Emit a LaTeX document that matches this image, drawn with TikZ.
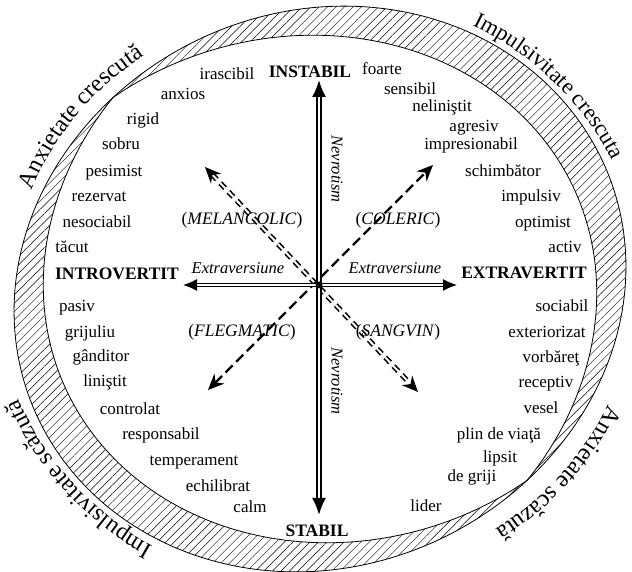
\documentclass[tikz,border=0pt]{standalone}
\usepackage{fontspec}
\setmainfont{Liberation Serif}
\usetikzlibrary{arrows.meta,decorations.text,patterns.meta,calc}
\begin{document}
\begin{tikzpicture}[x=1pt,y=1pt,
  word/.style={font=\fontsize{17}{20}\selectfont, anchor=base, inner sep=0pt},
  axislbl/.style={font=\fontsize{17.5}{20}\selectfont\bfseries, anchor=base, inner sep=0pt},
  typelbl/.style={font=\fontsize{17.5}{20}\selectfont, anchor=center, inner sep=0pt},
  dimlbl/.style={font=\fontsize{16.5}{20}\selectfont\itshape, inner sep=0pt},
  vaxis/.style={double=white, line width=2pt, double distance=1.4pt,
    {Latex[length=17pt,width=14pt]}-{Latex[length=17pt,width=14pt]}},
  haxis/.style={double=white, line width=1.2pt, double distance=1.4pt,
    {Latex[length=14pt,width=12pt]}-{Latex[length=14pt,width=12pt]}},
  ddash/.style={double=white, line width=1.6pt, double distance=2pt, dash pattern=on 7pt off 5pt,
    {Stealth[length=16pt,width=14pt]}-{Stealth[length=16pt,width=14pt]}},
  sdash/.style={line width=2.4pt, dash pattern=on 10pt off 5pt,
    {Stealth[length=16pt,width=14pt]}-{Stealth[length=16pt,width=14pt]}},
  band/.style={line width=0.8pt},
  arclbl/.style={decorate, decoration={text along path, text align=center}}
]
\path[fill=white,use as bounding box] (0,0) rectangle (632,572);

% hatched band
\fill[pattern={Lines[angle=45,distance=6pt,line width=0.45pt]}, even odd rule]
  plot[domain=0:360,samples=241] ({320+305*(1+0.04*sin(2*\x))*cos(\x)},{283+282*(1+0.04*sin(2*\x))*sin(\x)}) -- cycle
  plot[domain=0:360,samples=241] ({320+(305*(1+0.04*sin(2*\x))-40*abs(sin(\x-135)))*cos(\x)},{283+(282*(1+0.04*sin(2*\x))-40*abs(sin(\x-135)))*sin(\x)}) -- cycle;
\draw[band] plot[domain=0:360,samples=241] ({320+305*(1+0.04*sin(2*\x))*cos(\x)},{283+282*(1+0.04*sin(2*\x))*sin(\x)}) -- cycle;
\draw[band] plot[domain=0:360,samples=241] ({320+(305*(1+0.04*sin(2*\x))-40*abs(sin(\x-135)))*cos(\x)},{283+(282*(1+0.04*sin(2*\x))-40*abs(sin(\x-135)))*sin(\x)}) -- cycle;

% curved outer labels
\coordinate (C) at (320,283);
\path[arclbl, decoration={text={|\fontsize{24}{28}\selectfont|Anxietate crescută}}]
  ($(C)+(183:307pt and 284pt)$) arc[start angle=183, end angle=103, x radius=307pt, y radius=284pt];
\path[arclbl, decoration={text={|\fontsize{22.5}{28}\selectfont|Impulsivitate crescuta}}]
  ($(C)+(83:324pt and 299pt)$) arc[start angle=83, end angle=3, x radius=324pt, y radius=299pt];
\path[arclbl, decoration={text={|\fontsize{24}{28}\selectfont|Anxietate scăzută}}]
  ($(C)+(1:314pt and 290pt)$) arc[start angle=1, end angle=-79, x radius=314pt, y radius=290pt];
\path[arclbl, decoration={text={|\fontsize{24}{28}\selectfont|Impulsivitate scăzută}}]
  ($(C)+(259.5:324pt and 300pt)$) arc[start angle=259.5, end angle=179.5, x radius=324pt, y radius=300pt];

% axes
\coordinate (Ntip) at (319,492);
\coordinate (Stip) at (319,57);
\coordinate (Wtip) at (183,287);
\coordinate (Etip) at (457,287);
\coordinate (NWtip) at (205,405);
\coordinate (NEtip) at (433,407);
\coordinate (SWtip) at (208,182);
\coordinate (SEtip) at (418,180);
\draw[ddash] (NWtip) -- (SEtip);
\draw[sdash] (SWtip) -- (NEtip);
\draw[haxis] (Wtip) -- (Etip);
\draw[vaxis] (Stip) -- (Ntip);
\node[circle, fill=black, inner sep=0pt, minimum size=7pt] (O) at (319,287) {};

% axis labels
\node[axislbl] (instabil) at (310,494) {INSTABIL};
\node[axislbl] (stabil) at (317,35) {STABIL};
\node[axislbl] (introvertit) at (117,292) {INTROVERTIT};
\node[axislbl] (extravertit) at (524,293) {EXTRAVERTIT};

\node[typelbl] (melancolic) at (242,352) {(\textit{MELANCOLIC})};
\node[typelbl] (coleric) at (398,352) {(\textit{COLERIC})};
\node[typelbl] (flegmatic) at (242,240) {(\textit{FLEGMATIC})};
\node[typelbl] (sangvin) at (398,240) {(\textit{SANGVIN})};

\node[dimlbl, anchor=base] (extraL) at (238,298) {Extraversiune};
\node[dimlbl, anchor=base] (extraR) at (395,298) {Extraversiune};
\node[dimlbl, rotate=-90] (nevU) at (337,403) {Nevrotism};
\node[dimlbl, rotate=-90] (nevD) at (337,191) {Nevrotism};

% left words
\node[word] (w1) at (227,492) {irascibil};
\node[word] (w2) at (183,472) {anxios};
\node[word] (w3) at (143,447) {rigid};
\node[word] (w4) at (121,422) {sobru};
\node[word] (w5) at (114,395) {pesimist};
\node[word] (w6) at (99,370) {rezervat};
\node[word] (w7) at (97,344) {nesociabil};
\node[word] (w8) at (72,319) {tăcut};
\node[word] (w9) at (77,260) {pasiv};
\node[word] (w10) at (90,234) {grijuliu};
\node[word] (w11) at (101,210) {gânditor};
\node[word] (w12) at (105,185) {liniştit};
\node[word] (w13) at (130,157) {controlat};
\node[word] (w14) at (161,132) {responsabil};
\node[word] (w15) at (194,106) {temperament};
\node[word] (w16) at (218,80) {echilibrat};
\node[word] (w17) at (250,59) {calm};

% right words
\node[word] (r1) at (382,497) {foarte};
\node[word] (r2) at (410,477) {sensibil};
\node[word] (r3) at (442,460) {neliniştit};
\node[word] (r4) at (474,440) {agresiv};
\node[word] (r5) at (471,422) {impresionabil};
\node[word] (r6) at (503,395) {schimbător};
\node[word] (r7) at (531,370) {impulsiv};
\node[word] (r8) at (543,344) {optimist};
\node[word] (r9) at (565,319) {activ};
\node[word] (r10) at (562,260) {sociabil};
\node[word] (r11) at (547,234) {exteriorizat};
\node[word] (r12) at (551,209) {vorbăreţ};
\node[word] (r13) at (546,184) {receptiv};
\node[word] (r14) at (541,158) {vesel};
\node[word] (r15) at (499,132) {plin de viaţă};
\node[word] (r16) at (500,109) {lipsit};
\node[word] (r17) at (472,90) {de griji};
\node[word] (r18) at (426,60) {lider};
\end{tikzpicture}
\end{document}
